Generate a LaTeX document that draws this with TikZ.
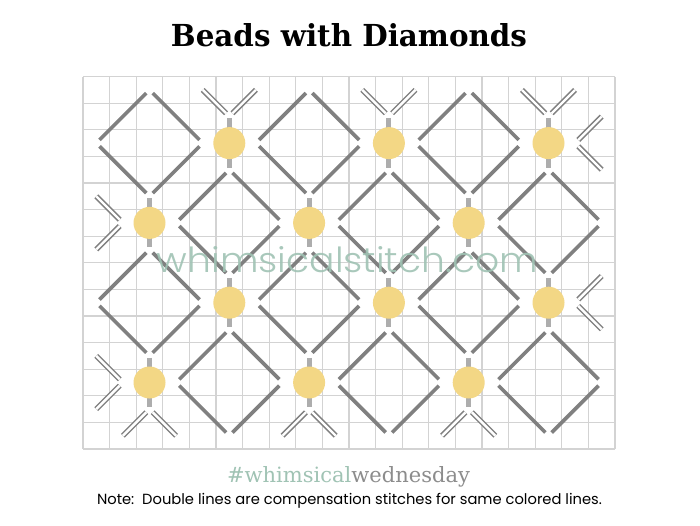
\documentclass[tikz,border=0pt]{standalone}
\usepackage{fontspec}
\newfontfamily\titlefont{DejaVu Serif}
\newfontfamily\notefont{Poppins}
\newfontfamily\wmfont{Poppins Light}
\definecolor{gridc}{HTML}{D3D3D3}
\definecolor{stitch}{HTML}{808080}
\definecolor{barc}{HTML}{ADADAD}
\definecolor{beadc}{HTML}{F3D785}
\definecolor{sage}{HTML}{A0C3B4}
\definecolor{hashgray}{HTML}{8C8C8C}
\begin{document}
\begin{tikzpicture}[x=1pt,y=1pt,
  gridline/.style={draw=gridc, line width=1.1pt},
  stitchline/.style={draw=stitch, line width=3.6pt, shorten <=4.5pt, shorten >=4.5pt},
  compline/.style={draw=stitch, double=white, double distance=2.4pt, line width=1.5pt, shorten >=4.5pt},
  beadbar/.style={draw=barc, line width=5pt, shorten <=2pt, shorten >=2pt},
  bead/.style={fill=beadc, circle, inner sep=0pt, minimum size=32pt}
]
\fill[white] (0,0) rectangle (700,525);
\useasboundingbox (0,0) rectangle (700,525);
\begin{scope}[shift={(83,448.4)}, x=26.6pt, y=-26.6pt]
  % grid
  \foreach \i in {0,...,20} \draw[gridline] (\i,0) -- (\i,14);
  \foreach \j in {0,...,14} \draw[gridline] (0,\j) -- (20,\j);
  % full diamonds
  \foreach \cx/\cy in {2.5/2.5, 8.5/2.5, 14.5/2.5, 5.5/5.5, 11.5/5.5, 17.5/5.5,
                       2.5/8.5, 8.5/8.5, 14.5/8.5, 5.5/11.5, 11.5/11.5, 17.5/11.5} {
    \coordinate (L) at ({\cx-2},\cy);
    \coordinate (T) at (\cx,{\cy-2});
    \coordinate (R) at ({\cx+2},\cy);
    \coordinate (B) at (\cx,{\cy+2});
    \draw[stitchline] (L) -- (T);
    \draw[stitchline] (T) -- (R);
    \draw[stitchline] (R) -- (B);
    \draw[stitchline] (B) -- (L);
  }
  % compensation stitches: top
  \foreach \x in {5.5, 11.5, 17.5} {
    \coordinate (V) at (\x,1.5);
    \coordinate (E1) at ({\x-1},0.5);
    \coordinate (E2) at ({\x+1},0.5);
    \draw[compline] (E1) -- (V);
    \draw[compline] (E2) -- (V);
  }
  % bottom
  \foreach \x in {2.5, 8.5, 14.5} {
    \coordinate (V) at (\x,12.5);
    \coordinate (E1) at ({\x-1},13.5);
    \coordinate (E2) at ({\x+1},13.5);
    \draw[compline] (E1) -- (V);
    \draw[compline] (E2) -- (V);
  }
  % left
  \foreach \y in {5.5, 11.5} {
    \coordinate (V) at (1.5,\y);
    \coordinate (E1) at (0.5,{\y-1});
    \coordinate (E2) at (0.5,{\y+1});
    \draw[compline] (E1) -- (V);
    \draw[compline] (E2) -- (V);
  }
  % right
  \foreach \y in {2.5, 8.5} {
    \coordinate (V) at (18.5,\y);
    \coordinate (E1) at (19.5,{\y-1});
    \coordinate (E2) at (19.5,{\y+1});
    \draw[compline] (E1) -- (V);
    \draw[compline] (E2) -- (V);
  }
  % beads with vertical bars
  \foreach \bx/\by [count=\k] in {5.5/2.5, 11.5/2.5, 17.5/2.5, 2.5/5.5, 8.5/5.5, 14.5/5.5,
                       5.5/8.5, 11.5/8.5, 17.5/8.5, 2.5/11.5, 8.5/11.5, 14.5/11.5} {
    \coordinate (bt\k) at (\bx,{\by-1});
    \coordinate (bb\k) at (\bx,{\by+1});
    \draw[beadbar] (bt\k) -- (bb\k);
    \node[bead] (bead\k) at (\bx,\by) {};
  }
\end{scope}
% texts
\node[anchor=base, inner sep=0pt] (title) at (349,478)
  {\resizebox{356pt}{23pt}{\titlefont\bfseries Beads with Diamonds}};
\node[anchor=base, inner sep=0pt, text=sage, opacity=0.9] (watermark) at (347.5,253)
  {\resizebox{381pt}{26pt}{\wmfont whimsicalstitch.com}};
\node[anchor=base, inner sep=0pt] (hashtag) at (348.5,43)
  {\resizebox{243pt}{!}{\titlefont\textcolor{sage}{\#whimsical}\textcolor{hashgray}{wednesday}}};
\node[anchor=base, inner sep=0pt] (note) at (349.5,21)
  {\resizebox{505pt}{!}{\notefont Note:\ \ Double lines are compensation stitches for same colored lines.}};
\end{tikzpicture}
\end{document}
